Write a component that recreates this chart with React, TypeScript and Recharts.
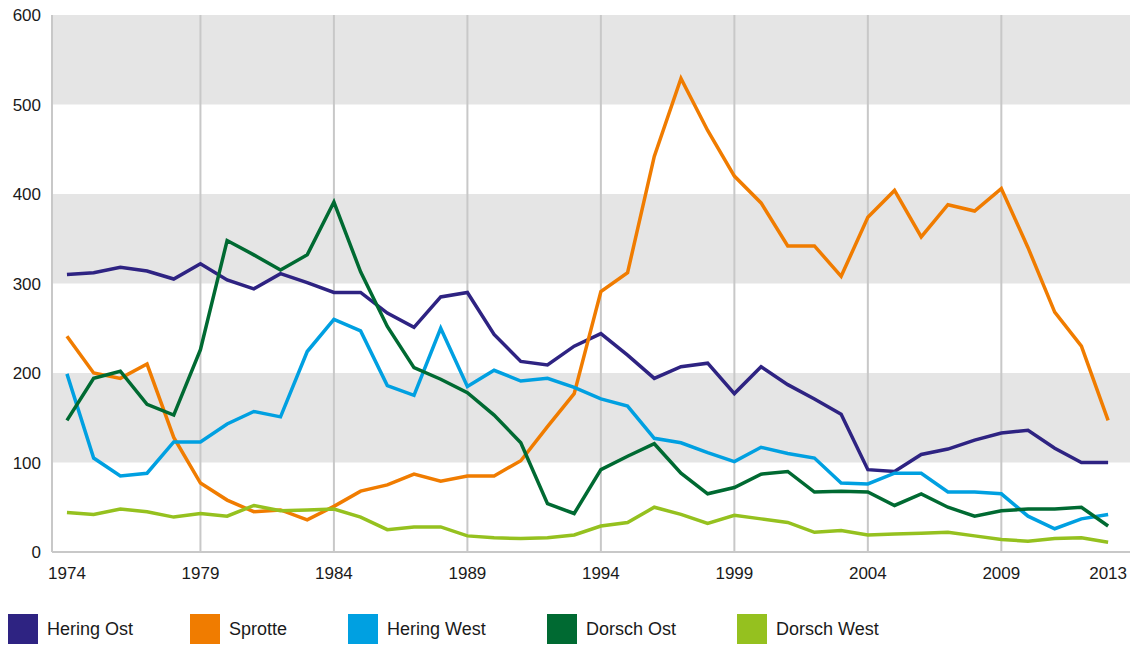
import {
  LineChart,
  Line,
  XAxis,
  YAxis,
  ReferenceArea,
  ReferenceLine,
} from "recharts";

const years = [
  1974, 1975, 1976, 1977, 1978, 1979, 1980, 1981, 1982, 1983, 1984, 1985,
  1986, 1987, 1988, 1989, 1990, 1991, 1992, 1993, 1994, 1995, 1996, 1997,
  1998, 1999, 2000, 2001, 2002, 2003, 2004, 2005, 2006, 2007, 2008, 2009,
  2010, 2011, 2012, 2013,
];

const heringOst = [
  310, 312, 318, 314, 305, 322, 304, 294, 311, 301, 290, 290, 267, 251, 285,
  290, 243, 213, 209, 230, 244, 220, 194, 207, 211, 177, 207, 187, 171, 154,
  92, 90, 109, 115, 125, 133, 136, 116, 100, 100,
];

const sprotte = [
  241, 200, 194, 210, 128, 77, 58, 45, 47, 36, 51, 68, 75, 87, 79, 85, 85,
  102, 140, 177, 291, 312, 442, 529, 471, 420, 390, 342, 342, 308, 374, 404,
  352, 388, 381, 406, 340, 268, 230, 147,
];

const heringWest = [
  199, 105, 85, 88, 123, 123, 143, 157, 151, 224, 260, 247, 186, 175, 250,
  185, 203, 191, 194, 184, 171, 163, 127, 122, 111, 101, 117, 110, 105, 77,
  76, 88, 88, 67, 67, 65, 40, 26, 37, 42,
];

const dorschOst = [
  147, 194, 202, 165, 153, 226, 348, 332, 315, 332, 391, 313, 252, 206, 193,
  178, 153, 122, 54, 43, 92, 107, 121, 88, 65, 72, 87, 90, 67, 68, 67, 52,
  65, 50, 40, 46, 48, 48, 50, 29,
];

const dorschWest = [
  44, 42, 48, 45, 39, 43, 40, 52, 46, 47, 48, 39, 25, 28, 28, 18, 16, 15, 16,
  19, 29, 33, 50, 42, 32, 41, 37, 33, 22, 24, 19, 20, 21, 22, 18, 14, 12, 15,
  16, 11,
];

const xTicks = [1974, 1979, 1984, 1989, 1994, 1999, 2004, 2009, 2013];
const yTicks = [0, 100, 200, 300, 400, 500, 600];
const gridYears = [1979, 1984, 1989, 1994, 1999, 2004, 2009];
const bands = [
  [100, 200],
  [300, 400],
  [500, 600],
];

const series = [
  { key: "heringOst", name: "Hering Ost", color: "#2e2382", values: heringOst },
  { key: "sprotte", name: "Sprotte", color: "#f07c00", values: sprotte },
  { key: "heringWest", name: "Hering West", color: "#00a0e1", values: heringWest },
  { key: "dorschOst", name: "Dorsch Ost", color: "#006a32", values: dorschOst },
  { key: "dorschWest", name: "Dorsch West", color: "#95c11f", values: dorschWest },
];

const legendX = [8, 190, 348, 547, 737];

const data = years.map((year, i) => {
  const row: Record<string, number> = { year };
  series.forEach((s) => {
    row[s.key] = s.values[i];
  });
  return row;
});

const font = "'Liberation Sans', Arial, sans-serif";

export default function App() {
  return (
    <div
      style={{
        position: "absolute",
        left: 0,
        top: 0,
        width: 1136,
        height: 645,
        background: "#fff",
        fontFamily: font,
      }}
    >
      <LineChart
        width={1136}
        height={600}
        data={data}
        margin={{ top: 15, right: 6, bottom: 18, left: 0 }}
      >
        {bands.map(([a, b]) => (
          <ReferenceArea
            key={a}
            y1={a}
            y2={b}
            fill="#e5e5e5"
            fillOpacity={1}
            stroke="none"
          />
        ))}
        {gridYears.map((y) => (
          <ReferenceLine key={y} x={y} stroke="#c8c8c8" strokeWidth={2} />
        ))}
        <XAxis
          dataKey="year"
          type="number"
          domain={[1973.44, 2013.82]}
          ticks={xTicks}
          interval={0}
          height={30}
          tickSize={0}
          tickMargin={15}
          axisLine={{ stroke: "#c8c8c8", strokeWidth: 2 }}
          tick={{ fill: "#1a1a1a", fontSize: 17, fontFamily: font }}
        />
        <YAxis
          type="number"
          domain={[0, 600]}
          ticks={yTicks}
          width={52}
          tickSize={0}
          tickMargin={11}
          axisLine={{ stroke: "#c8c8c8", strokeWidth: 2 }}
          tick={{ fill: "#1a1a1a", fontSize: 17, fontFamily: font }}
        />
        {series.map((s) => (
          <Line
            key={s.key}
            dataKey={s.key}
            name={s.name}
            type="linear"
            stroke={s.color}
            strokeWidth={3.5}
            dot={false}
            isAnimationActive={false}
          />
        ))}
      </LineChart>
      {series.map((s, i) => (
        <div
          key={s.key}
          style={{
            position: "absolute",
            left: legendX[i],
            top: 614,
            height: 30,
            display: "flex",
            alignItems: "center",
          }}
        >
          <div style={{ width: 30, height: 30, background: s.color }} />
          <span style={{ marginLeft: 9, fontSize: 18, color: "#1a1a1a" }}>
            {s.name}
          </span>
        </div>
      ))}
    </div>
  );
}
